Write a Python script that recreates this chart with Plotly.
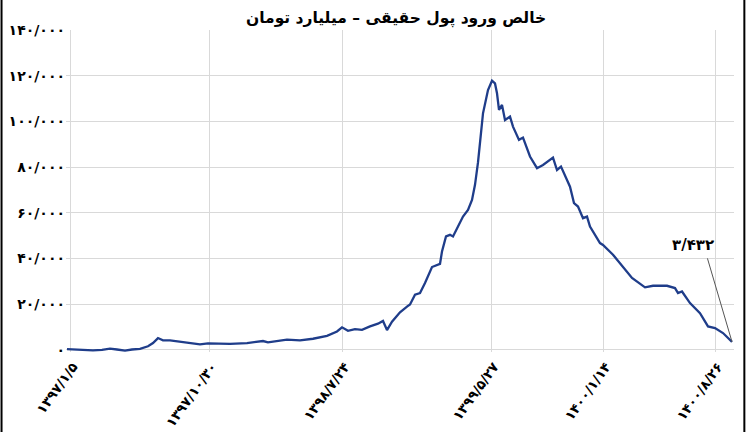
import plotly.graph_objects as go

# Trading-day index (position along the time axis) and net real-money inflow (billion toman)
day_index = [-3, 10, 23, 32, 40, 47, 55, 62, 70, 78, 83, 88, 93, 100, 110, 120, 130, 138, 150, 160,
             177, 193, 198, 217, 230, 243, 257, 267, 272, 278, 285, 292, 300, 308, 313, 317, 322, 330,
             337, 340, 345, 350, 355, 362, 370, 372, 376, 380, 383, 388, 393, 398, 402, 405, 408, 413,
             418, 422, 425, 427, 429, 432, 435, 440, 443, 449, 453, 460, 467, 473, 483, 487, 491, 500,
             504, 508, 513, 517, 520, 530, 533, 543, 553, 562, 575, 583, 597, 605, 608, 612, 620, 630,
             638, 645, 653, 662]
net_inflow = [300, 100, -300, -100, 500, 100, -400, 100, 400, 1500, 2900, 5100, 4100, 4100, 3500, 2800,
              2300, 2800, 2700, 2600, 2900, 3800, 3200, 4400, 4100, 4800, 6100, 8000, 9800, 8300, 9000,
              8700, 10200, 11400, 12600, 8600, 12300, 16400, 18900, 19800, 24100, 24800, 29200, 36200,
              37600, 43000, 49600, 50300, 49600, 53700, 58300, 61200, 65600, 72200, 82000, 103500, 113700,
              117800, 116600, 112300, 105000, 107200, 100600, 102100, 97700, 91900, 92900, 84600, 79500,
              80900, 84100, 78700, 80200, 71400, 64200, 62700, 57600, 58300, 53900, 46700, 45900, 41600,
              36400, 31400, 27300, 28000, 28000, 27000, 24800, 25500, 20400, 16000, 10200, 9500, 7300, 3432]

x_tick_pos = [0, 139, 272, 421, 533, 645]
x_tick_labels = ["۱۳۹۷/۱/۵", "۱۳۹۷/۱۰/۳۰", "۱۳۹۸/۷/۲۴", "۱۳۹۹/۵/۲۷", "۱۴۰۰/۱/۱۴", "۱۴۰۰/۸/۲۶"]
y_tick_vals = [0, 20000, 40000, 60000, 80000, 100000, 120000, 140000]
y_tick_labels = ["۰", "۲۰/۰۰۰", "۴۰/۰۰۰", "۶۰/۰۰۰", "۸۰/۰۰۰", "۱۰۰/۰۰۰", "۱۲۰/۰۰۰", "۱۴۰/۰۰۰"]
title_text = "خالص ورود پول حقیقی – میلیارد تومان"
last_label = "۳/۴۳۲"

FONT = "DejaVu Sans"
LINE_COLOR = "#1f3d8a"
GRID = "#d9d9d9"

fig = go.Figure()
fig.add_trace(go.Scatter(x=day_index, y=net_inflow, mode="lines",
                         line=dict(color=LINE_COLOR, width=2.3), showlegend=False,
                         hoverinfo="skip"))

fig.update_layout(
    width=748, height=432,
    margin=dict(l=66, r=14, t=30, b=80, autoexpand=False),
    paper_bgcolor="white", plot_bgcolor="white",
    font=dict(family=FONT, color="black"),
)
fig.add_annotation(text="<b>" + title_text + "</b>", xref="paper", yref="paper",
                   x=0.494, y=1.0, yshift=12, xanchor="center", yanchor="middle",
                   showarrow=False, font=dict(family=FONT, size=15.5, color="black"))

fig.update_xaxes(range=[-4, 664], tickmode="array", tickvals=x_tick_pos,
                 ticktext=["<b>" + t + "</b>" for t in x_tick_labels],
                 tickangle=-54, showgrid=True, gridcolor=GRID, gridwidth=1,
                 zeroline=False, showline=False, ticks="", automargin=False,
                 tickfont=dict(family=FONT, size=13.5, color="black"),
                 ticklabelshift=3, ticklabelstandoff=3)
fig.update_yaxes(range=[-1000, 140000], tickmode="array", tickvals=y_tick_vals,
                 ticktext=["<b>" + t + "</b>" for t in y_tick_labels],
                 showgrid=True, gridcolor=GRID, gridwidth=1, zeroline=False,
                 showline=False, ticks="", automargin=False,
                 tickfont=dict(family=FONT, size=14, color="black"))

# Callout for the latest value
fig.add_annotation(x=day_index[-1], y=net_inflow[-1], text="", showarrow=True,
                   arrowhead=0, arrowwidth=1, arrowcolor="#555555", ax=-25, ay=-85,
                   xref="x", yref="y")
fig.add_annotation(x=day_index[-1], y=net_inflow[-1], text="<b>" + last_label + "</b>",
                   showarrow=False, xshift=-39, yshift=97,
                   font=dict(family=FONT, size=15, color="black"))

# Frame edges of the original picture
for px in (-0.0965, 1.0155):
    fig.add_shape(type="line", xref="paper", yref="paper", x0=px, x1=px, y0=-0.3, y1=1.12,
                  line=dict(color="black", width=2))

fig.write_html("out.html", config={"displayModeBar": False},
               post_script="document.body.style.margin='0';")
